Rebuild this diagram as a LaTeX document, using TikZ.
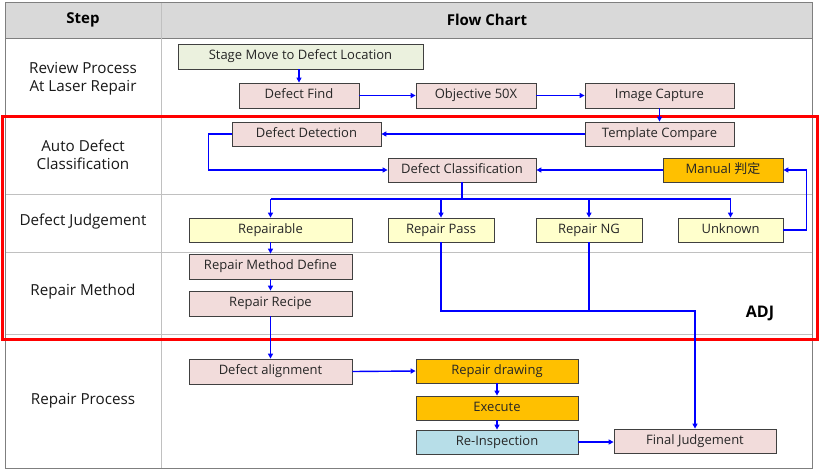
\documentclass[tikz,border=0pt]{standalone}
\usepackage{fontspec}
\setmainfont{Open Sans}
\newfontfamily\cjk{Noto Sans CJK SC}
\usetikzlibrary{arrows.meta}
\definecolor{pinkbox}{HTML}{F2DCDB}
\definecolor{greenbox}{HTML}{EBF1DE}
\definecolor{yellowbox}{HTML}{FFFFCC}
\definecolor{orangebox}{HTML}{FFC000}
\definecolor{bluebox}{HTML}{B7DEE8}
\definecolor{headgrey}{HTML}{D9D9D9}
\definecolor{gridgrey}{HTML}{C0C0C0}
\definecolor{framegrey}{HTML}{7F7F7F}
\definecolor{flowblue}{HTML}{0000FF}
\begin{document}
\begin{tikzpicture}[x=1pt,y=-1pt,
  box/.style={draw=black!75, line width=0.8pt, inner sep=0pt, text height=9.5pt, text depth=2.7pt, font=\fontsize{13}{15}\selectfont, text=black!85},
  pbox/.style={box, fill=pinkbox},
  gbox/.style={box, fill=greenbox},
  ybox/.style={box, fill=yellowbox},
  obox/.style={box, fill=orangebox},
  bbox/.style={box, fill=bluebox},
  lbl/.style={font=\fontsize{15.2}{18}\selectfont, align=center, text=black!90},
  hdr/.style={font=\fontsize{15}{17}\selectfont\bfseries},
  wire/.style={draw=flowblue, line width=1.4pt},
  arr/.style={wire, -{Triangle[length=5pt,width=5pt]}}
]
\useasboundingbox (0,0) rectangle (822,472);
% table
\fill[white] (5,2) rectangle (812,468);
\fill[headgrey] (5,2) rectangle (812,38);
\foreach \yy in {115,194,252,334}{\draw[gridgrey, line width=0.8pt] (5,\yy) -- (812,\yy);}
\draw[framegrey, line width=0.8pt] (5,38) -- (812,38);
\draw[gridgrey, line width=0.8pt] (161,2) -- (161,468);
\draw[framegrey, line width=1pt] (5,2) rectangle (812,468);
\node[hdr] (hstep) at (83,20) {Step};
\node[hdr] (hflow) at (487,20) {Flow Chart};
\node[lbl] (l1) at (83,79) {Review Process\\At Laser Repair};
\node[lbl] (l2) at (83,155) {Auto Defect\\Classification};
\node[lbl] (l3) at (83,222) {Defect Judgement};
\node[lbl] (l4) at (83,292) {Repair Method};
\node[lbl] (l5) at (83,401) {Repair Process};
% red frame
\draw[red, line width=3pt] (2,116) rectangle (817,339);
\node[font=\fontsize{16}{18}\selectfont\bfseries] (adj) at (760,313) {ADJ};
% boxes
\node[gbox, minimum width=245pt, minimum height=25pt] (stage) at (300.5,56.5) {Stage Move to Defect Location};
\node[pbox, minimum width=120pt, minimum height=25pt] (find) at (299,95.5) {Defect Find};
\node[pbox, minimum width=120pt, minimum height=25pt] (obj) at (476,95.5) {Objective 50X};
\node[pbox, minimum width=149pt, minimum height=25pt] (cap) at (659.5,95.5) {Image Capture};
\node[pbox, minimum width=149pt, minimum height=24pt] (det) at (306.5,134) {Defect Detection};
\node[pbox, minimum width=149pt, minimum height=24pt] (tmpl) at (659.5,134) {Template Compare};
\node[pbox, minimum width=148pt, minimum height=24pt] (cls) at (462,170) {Defect Classification};
\node[obox, minimum width=120pt, minimum height=24pt] (man) at (723,170) {Manual {\cjk 判定}};
\node[ybox, minimum width=163pt, minimum height=24pt] (rep) at (270.5,230) {Repairable};
\node[ybox, minimum width=106pt, minimum height=24pt] (pass) at (441,230) {Repair Pass};
\node[ybox, minimum width=106pt, minimum height=24pt] (ng) at (589,230) {Repair NG};
\node[ybox, minimum width=105pt, minimum height=24pt] (unk) at (730.5,230) {Unknown};
\node[pbox, minimum width=163pt, minimum height=25pt] (rmd) at (270.5,266.5) {Repair Method Define};
\node[pbox, minimum width=163pt, minimum height=25pt] (rrc) at (270.5,303.5) {Repair Recipe};
\node[pbox, minimum width=163pt, minimum height=25pt] (align) at (270.5,371.5) {Defect alignment};
\node[obox, minimum width=162pt, minimum height=24pt] (drw) at (497,371) {Repair drawing};
\node[obox, minimum width=162pt, minimum height=24pt] (exe) at (497,408) {Execute};
\node[bbox, minimum width=162pt, minimum height=24pt] (reins) at (497,442) {Re-Inspection};
\node[pbox, minimum width=162pt, minimum height=24pt] (final) at (695,441) {Final Judgement};
% connectors
\coordinate (j) at (462,199);
\coordinate (m) at (695,311);
\draw[arr] (find.north |- stage.south) -- (find.north);
\draw[arr] (find.east) -- (obj.west);
\draw[arr] (obj.east) -- (cap.west);
\draw[arr] (cap.south) -- (tmpl.north);
\draw[arr] (tmpl.west) -- (det.east);
\draw[arr] (det.west) -- ++(-23,0) |- (cls.west);
\draw[arr] (man.west) -- (cls.east);
\draw[wire] (cls.south) -- (j);
\draw[wire] (j -| rep.north) -- (j -| unk.north);
\draw[arr] (j -| rep.north) -- (rep.north);
\draw[arr] (j -| pass.north) -- (pass.north);
\draw[arr] (j -| ng.north) -- (ng.north);
\draw[arr] (j -| unk.north) -- (unk.north);
\draw[arr] (unk.east) -- ++(23,0) |- (man.east);
\draw[arr] (rep.south) -- (rmd.north);
\draw[arr] (rmd.south) -- (rrc.north);
\draw[arr] (rrc.south) -- (align.north);
\draw[arr] (align.east) -- (drw.west);
\draw[arr] (drw.south) -- (exe.north);
\draw[arr] (exe.south) -- (reins.north);
\draw[arr] (reins.east) -- (reins.east -| final.west);
\draw[wire] (ng.south) -- (ng.south |- m);
\draw[arr] (pass.south) |- (m) -- (final.north);
\end{tikzpicture}
\end{document}
